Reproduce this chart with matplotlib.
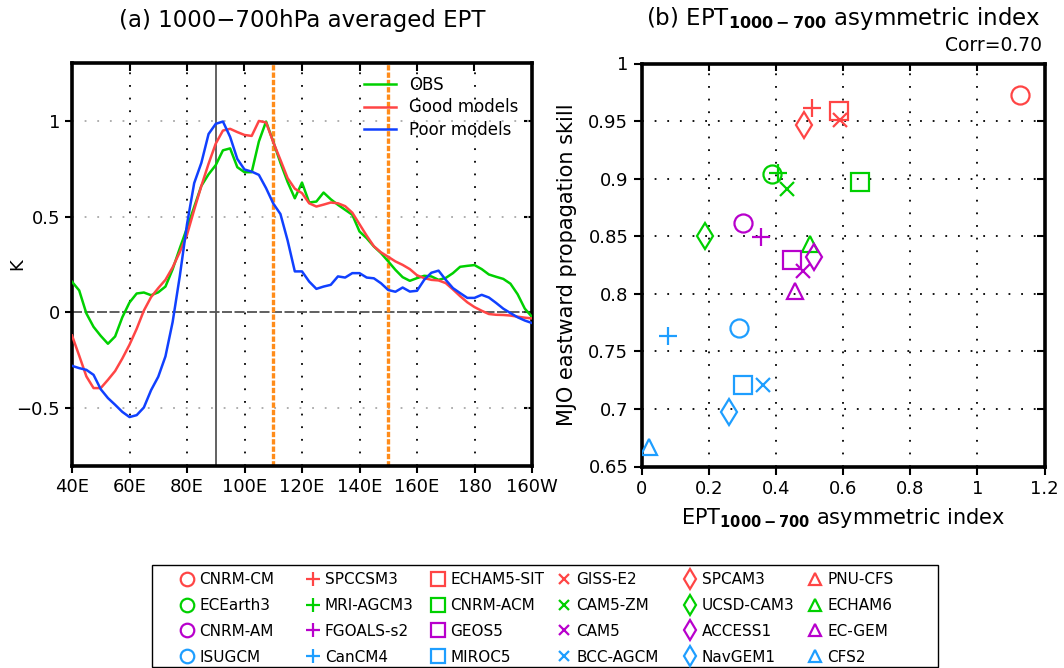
import matplotlib
matplotlib.use("Agg")
import matplotlib.pyplot as plt
from matplotlib.patches import Rectangle
import numpy as np

# ---- panel (a): 1000-700hPa averaged EPT, 40E..160W every 2.5 deg ----
lon = np.arange(40, 200.1, 2.5)

obs = [0.16, 0.115, -0.005, -0.075, -0.122, -0.163, -0.125, -0.025, 0.052, 0.099,
       0.104, 0.09, 0.105, 0.135, 0.225, 0.335, 0.44, 0.55, 0.66, 0.72,
       0.768, 0.845, 0.855, 0.757, 0.731, 0.731, 0.891, 0.995, 0.89, 0.78,
       0.68, 0.595, 0.677, 0.573, 0.578, 0.625, 0.59, 0.561, 0.535, 0.509,
       0.422, 0.387, 0.344, 0.309, 0.266, 0.222, 0.184, 0.165, 0.179, 0.191,
       0.188, 0.17, 0.18, 0.205, 0.238, 0.243, 0.247, 0.226, 0.198, 0.186,
       0.175, 0.15, 0.095, 0.02, -0.023]

good = [-0.12, -0.225, -0.333, -0.394, -0.394, -0.351, -0.305, -0.24, -0.168, -0.085,
        0.01, 0.08, 0.127, 0.17, 0.235, 0.315, 0.405, 0.535, 0.66, 0.775,
        0.88, 0.948, 0.957, 0.94, 0.925, 0.92, 0.998, 0.99, 0.888, 0.795,
        0.70, 0.645, 0.622, 0.569, 0.552, 0.562, 0.573, 0.569, 0.554, 0.52,
        0.46, 0.40, 0.345, 0.313, 0.29, 0.266, 0.248, 0.226, 0.194, 0.179,
        0.17, 0.167, 0.153, 0.12, 0.085, 0.053, 0.028, 0.009, -0.008, -0.012,
        -0.013, -0.016, -0.022, -0.027, -0.031]

poor = [-0.278, -0.29, -0.299, -0.325, -0.40, -0.446, -0.481, -0.518, -0.545, -0.535,
        -0.495, -0.405, -0.335, -0.229, -0.05, 0.19, 0.46, 0.674, 0.78, 0.93,
        0.983, 0.995, 0.915, 0.80, 0.745, 0.734, 0.717, 0.648, 0.568, 0.513,
        0.375, 0.214, 0.214, 0.161, 0.123, 0.135, 0.144, 0.188, 0.182, 0.205,
        0.205, 0.182, 0.178, 0.152, 0.117, 0.108, 0.13, 0.109, 0.113, 0.17,
        0.207, 0.218, 0.17, 0.127, 0.101, 0.076, 0.076, 0.092, 0.078, 0.05,
        0.02, -0.003, -0.025, -0.042, -0.055]

lon_ticks = [40, 60, 80, 100, 120, 140, 160, 180, 200]
lon_labels = ["40E", "60E", "80E", "100E", "120E", "140E", "160E", "180", "160W"]

# ---- panel (b): asymmetric index vs MJO eastward propagation skill ----
red_models = ["CNRM-CM", "SPCCSM3", "ECHAM5-SIT", "GISS-E2", "SPCAM3", "PNU-CFS"]
red_asym = [1.127, 0.509, 0.589, 0.591, 0.484, np.nan]
red_skill = [0.973, 0.961, 0.959, 0.951, 0.947, np.nan]

green_models = ["ECEarth3", "MRI-AGCM3", "CNRM-ACM", "CAM5-ZM", "UCSD-CAM3", "ECHAM6"]
green_asym = [0.388, 0.407, 0.650, 0.432, 0.190, 0.502]
green_skill = [0.904, 0.905, 0.897, 0.891, 0.850, 0.843]

magenta_models = ["CNRM-AM", "FGOALS-s2", "GEOS5", "CAM5", "ACCESS1", "EC-GEM"]
magenta_asym = [0.301, 0.355, 0.449, 0.482, 0.514, 0.456]
magenta_skill = [0.8615, 0.849, 0.829, 0.820, 0.8317, 0.8026]

blue_models = ["ISUGCM", "CanCM4", "MIROC5", "BCC-AGCM", "NavGEM1", "CFS2"]
blue_asym = [0.290, 0.080, 0.302, 0.361, 0.261, 0.023]
blue_skill = [0.7706, 0.7637, 0.7204, 0.721, 0.6977, 0.667]

corr = 0.70

# styles
groups = [
    (red_models, red_asym, red_skill, "#ff4545"),
    (green_models, green_asym, green_skill, "#00d000"),
    (magenta_models, magenta_asym, magenta_skill, "#b800cc"),
    (blue_models, blue_asym, blue_skill, "#1e9eff"),
]
markers = ["o", "+", "s", "x", "d", "^"]
msizes = [13, 13, 13, 10, 13, 11]

plt.rcParams["font.family"] = ["DejaVu Sans"]
plt.rcParams["mathtext.fontset"] = "dejavusans"

W, H = 1064, 668
fig = plt.figure(figsize=(W / 100, H / 100), dpi=100)
ax1 = fig.add_axes([72 / W, 1 - 466 / H, 460 / W, 403 / H])
ax2 = fig.add_axes([641.5 / W, 1 - 466.5 / H, 403 / W, 403 / H])

# ---------------- panel (a) ----------------
for xv in lon_ticks[1:-1]:
    ax1.axvline(xv, color="black", lw=1.3, ls=(0, (1, 6)), zorder=1)
for yv in [-0.5, 0.5, 1.0]:
    ax1.axhline(yv, color="#a8a8a8", lw=1.3, ls=(0, (1, 6)), zorder=1)
ax1.axhline(0, color="#444444", lw=1.2, ls=(0, (6, 1.5)), zorder=1)
ax1.axvline(90, color="#555555", lw=1.3, zorder=1)
for xv in [110, 150]:
    ax1.axvline(xv, color="#ff8c1a", lw=2.4, ls=(0, (1.6, 0.6)), zorder=1)

ax1.plot(lon, obs, color="#00d000", lw=1.8, label="OBS", zorder=3)
ax1.plot(lon, good, color="#ff4545", lw=1.8, label="Good models", zorder=3)
ax1.plot(lon, poor, color="#1040ff", lw=1.8, label="Poor models", zorder=4)

ax1.set_xlim(40, 200)
ax1.set_ylim(-0.8, 1.3)
ax1.set_xticks(lon_ticks)
ax1.set_xticklabels(lon_labels)
ax1.set_yticks([-0.5, 0, 0.5, 1])
ax1.set_yticklabels(["\u22120.5", "0", "0.5", "1"])
ax1.tick_params(direction="out", length=5, width=1.5, labelsize=13)
ax1.set_ylabel("K", fontsize=13)
ax1.yaxis.set_label_coords(-46 / 460, 0.5)
for sp in ax1.spines.values():
    sp.set_linewidth(2.6)
ax1.legend(loc="upper right", frameon=False, fontsize=12, handlelength=1.9,
           handletextpad=0.8, labelspacing=0.25, borderaxespad=0.4)
fig.text((72 + 532) / 2 / W, 1 - 20 / H, "(a) 1000\u2212700hPa averaged EPT",
         ha="center", va="center", fontsize=16.5)

# ---------------- panel (b) ----------------
for xv in [0.2, 0.4, 0.6, 0.8, 1.0]:
    ax2.axvline(xv, color="black", lw=1.3, ls=(0, (1, 6)), zorder=1)
for yv in [0.7, 0.75, 0.8, 0.85, 0.9, 0.95]:
    ax2.axhline(yv, color="black", lw=1.3, ls=(0, (1, 6)), zorder=1)

handles = {}
for i, (names, xs, ys, col) in enumerate(groups):
    for j, m in enumerate(markers):
        h, = ax2.plot(xs[j], ys[j], ls="none", marker=m, ms=msizes[j],
                      mfc="none", mec=col, mew=1.6, label=names[j], zorder=3)
        handles[(i, j)] = h

ax2.set_xlim(0, 1.2)
ax2.set_ylim(0.65, 1.0)
ax2.set_xticks([0, 0.2, 0.4, 0.6, 0.8, 1.0, 1.2])
ax2.set_xticklabels(["0", "0.2", "0.4", "0.6", "0.8", "1", "1.2"])
ax2.set_yticks([0.65, 0.7, 0.75, 0.8, 0.85, 0.9, 0.95, 1.0])
ax2.set_yticklabels(["0.65", "0.7", "0.75", "0.8", "0.85", "0.9", "0.95", "1"])
ax2.tick_params(direction="out", length=6, width=1.5, labelsize=13)
for sp in ax2.spines.values():
    sp.set_linewidth(2.6)
ax2.set_ylabel("MJO eastward propagation skill", fontsize=15, labelpad=8)
ax2.set_xlabel(r"EPT$_{\mathbf{1000-700}}$ asymmetric index", fontsize=15, labelpad=6)
fig.text((641.5 + 1044.5) / 2 / W, 1 - 18 / H,
         r"(b) EPT$_{\mathbf{1000-700}}$ asymmetric index",
         ha="center", va="center", fontsize=16.5)
ax2.text(0.995, 1.02, "Corr=%.2f" % corr, transform=ax2.transAxes,
         ha="right", va="bottom", fontsize=13.5)

# inward ticks on top / right
for ax in (ax1, ax2):
    sx = ax.secondary_xaxis("top")
    sx.set_xticks(ax.get_xticks())
    sx.tick_params(direction="in", length=6, width=1.5, labeltop=False)
    sy = ax.secondary_yaxis("right")
    sy.set_yticks(ax.get_yticks())
    sy.tick_params(direction="in", length=6, width=1.5, labelright=False)
    for s in (sx, sy):
        for sp in s.spines.values():
            sp.set_visible(False)

# model legend: six equally spaced columns (one per marker) inside a box
fig.patches.append(Rectangle((152 / W, 1 - 667 / H), 786 / W, 102 / H,
                             transform=fig.transFigure, fill=False,
                             edgecolor="black", lw=1.0))
for j in range(len(markers)):
    col_h = [handles[(i, j)] for i in range(len(groups))]
    fig.legend(col_h, [h.get_label() for h in col_h], loc="upper left",
               bbox_to_anchor=((179.5 + 125.6 * j) / W, 1 - 572 / H),
               frameon=False, fontsize=11, markerscale=0.75, handlelength=1.0,
               handletextpad=0.3, labelspacing=0.71, borderpad=0,
               borderaxespad=0)

fig.savefig("out.png", dpi=100)
